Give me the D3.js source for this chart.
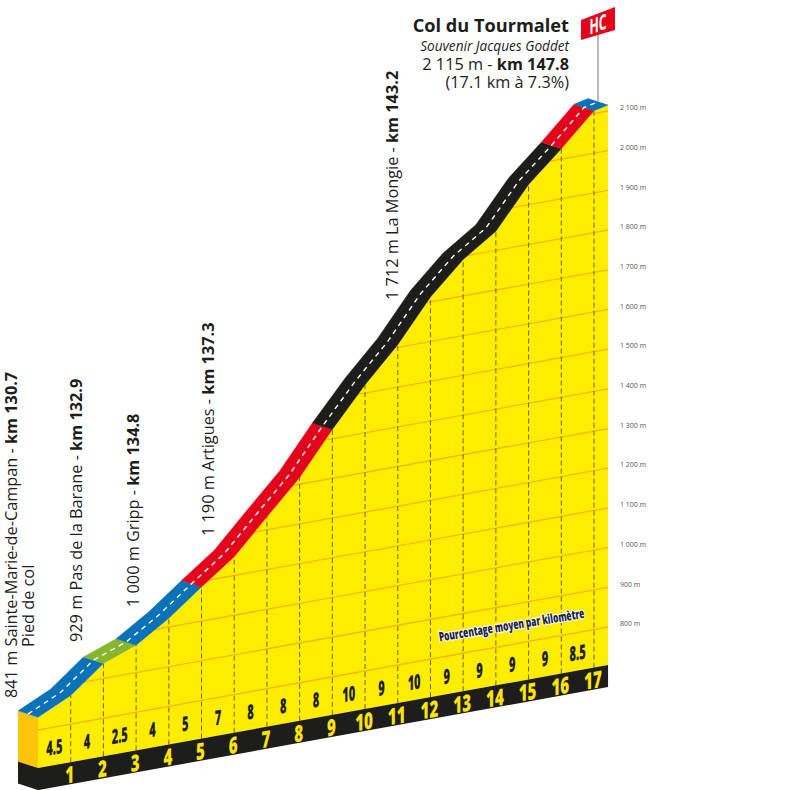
<!DOCTYPE html>
<html>
<head>
<meta charset="utf-8">
<style>
  html, body { margin: 0; padding: 0; background: #fff; }
  svg { display: block; }
  text { font-family: "Open Sans", sans-serif; }
</style>
<script src="https://cdnjs.cloudflare.com/ajax/libs/d3/7.8.5/d3.min.js"></script>
</head>
<body>
<div id="chart"></div>
<script>
// profile, one altitude per km, last one is the summit
const kms = [0, 1, 2, 3, 4, 5, 6, 7, 8, 9, 10, 11, 12, 13, 14, 15, 16, 17, 17.43];
const altitudes = [832, 872, 938, 969, 1022, 1086, 1147, 1233, 1317, 1423, 1521, 1607, 1712, 1792, 1848, 1951, 2026, 2107, 2115];
const gradients = [4.5, 4, 2.5, 4, 5, 7, 8, 8, 8, 10, 9, 10, 9, 9, 9, 9, 8.5];
const kmLabels = [1, 2, 3, 4, 5, 6, 7, 8, 9, 10, 11, 12, 13, 14, 15, 16, 17];
const altitudeTicks = [800, 900, 1000, 1100, 1200, 1300, 1400, 1500, 1600, 1700, 1800, 1900, 2000, 2100];
// difficulty of the road: [from km index, to km index, class]
const roadSegments = [[0, 2, 'easy'], [2, 3, 'flat'], [3, 5, 'easy'], [5, 9, 'hard'], [9, 16, 'vhard'], [16, 17, 'hard'], [17, 18, 'easy']];
const climbPoints = ['841 m Sainte-Marie-de-Campan - ', '929 m Pas de la Barane - ', '1 000 m Gripp - ', '1 190 m Artigues - ', '1 712 m La Mongie - '];
const climbKms = ['km 130.7', 'km 132.9', 'km 134.8', 'km 137.3', 'km 143.2'];

const roadColor = { easy: '#0b72b9', flat: '#86b52f', hard: '#e3051b', vhard: '#1d1d1b' };
const yellow = '#ffed00';
const dark = '#1d1d1b';

const width = 800, height = 790;
const svg = d3.select('#chart').append('svg').attr('width', width).attr('height', height);

const x = d3.scaleLinear().domain([0, 17]).range([38, 594]);
const rightEdge = x(17.43);
const y = d3.scaleLinear().domain([800, 2100]).range([627, 111]);
// the whole drawing is sheared: lines of equal altitude climb to the right
const shear = d3.scaleLinear().domain([38, rightEdge]).range([103, 0]);
const px = (km, alt) => [x(km), y(alt) + shear(x(km))];

const baseAlt = 704;
const stripHeight = 22;
const roadShift = [-20, -6.5];

const profile = kms.map((k, i) => px(k, altitudes[i]));
const line = d3.line();

// yellow face
svg.append('path')
    .attr('d', line([...profile, px(17.43, baseAlt), px(0, baseAlt)]) + 'Z')
    .attr('fill', yellow);

svg.append('clipPath').attr('id', 'face')
    .append('path')
    .attr('d', line([...profile, px(17.43, baseAlt), px(0, baseAlt)]) + 'Z');

// altitude lines
svg.append('g').attr('clip-path', 'url(#face)')
    .selectAll('line').data(altitudeTicks).join('line')
    .attr('x1', x(0)).attr('x2', rightEdge)
    .attr('y1', d => px(0, d)[1]).attr('y2', d => px(17.43, d)[1])
    .attr('stroke', '#f2b70f').attr('stroke-width', 1.3);

// km dashes
svg.append('g').selectAll('line').data(kmLabels).join('line')
    .attr('x1', d => x(d)).attr('x2', d => x(d))
    .attr('y1', d => px(d, baseAlt)[1]).attr('y2', d => px(d, altitudes[d])[1])
    .attr('stroke', '#6d6222').attr('stroke-width', 1).attr('stroke-dasharray', '5 3');

// left side of the block
const b0 = px(0, baseAlt);
const p0 = profile[0];
svg.append('path')
    .attr('d', line([p0, [p0[0] + roadShift[0], p0[1] + roadShift[1]], [b0[0] + roadShift[0], b0[1] + roadShift[1]], b0]) + 'Z')
    .attr('fill', '#fdc409');
svg.append('path')
    .attr('d', line([b0, [b0[0] + roadShift[0], b0[1] + roadShift[1]], [b0[0] + roadShift[0], b0[1] + roadShift[1] + stripHeight], [b0[0], b0[1] + stripHeight]]) + 'Z')
    .attr('fill', dark);

// black strip
const b1 = px(17.43, baseAlt);
svg.append('path')
    .attr('d', line([b0, b1, [b1[0], b1[1] + stripHeight], [b0[0], b0[1] + stripHeight]]) + 'Z')
    .attr('fill', dark);

// road ribbon
svg.append('g').selectAll('path').data(roadSegments).join('path')
    .attr('d', d => {
        const low = profile.slice(d[0], d[1] + 1);
        const high = low.map(p => [p[0] + roadShift[0], p[1] + roadShift[1]]).reverse();
        return line([...low, ...high]) + 'Z';
    })
    .attr('fill', d => roadColor[d[2]])
    .attr('stroke', d => roadColor[d[2]]).attr('stroke-width', 0.4);

svg.append('path')
    .attr('d', line(profile.map(p => [p[0] + roadShift[0] / 2, p[1] + roadShift[1] / 2])))
    .attr('fill', 'none').attr('stroke', '#fff').attr('stroke-width', 1.4).attr('stroke-dasharray', '5 4.5');

// slanted block text
const slanted = (sel, px0, py0, sx) => sel.attr('transform', `translate(${px0},${py0}) skewY(-10) scale(${sx},1)`);

svg.append('g').selectAll('text').data(gradients).join('text')
    .each(function(d, i) {
        const cx = x(i + 0.5);
        slanted(d3.select(this), cx, px(i + 0.5, baseAlt)[1] - 18, 0.54);
    })
    .attr('text-anchor', 'middle').attr('dy', '0.36em')
    .attr('font-size', 20.5).attr('font-weight', 800).attr('fill', dark)
    .text(d => d);

svg.append('g').selectAll('text').data(kmLabels).join('text')
    .each(function(d) {
        slanted(d3.select(this), x(d) - 1, px(d, baseAlt)[1] + 12.5, 0.66);
    })
    .attr('text-anchor', 'middle').attr('dy', '0.36em')
    .attr('font-size', 23).attr('font-weight', 800).attr('fill', '#ffe500')
    .text(d => d);

svg.append('text')
    .attr('transform', 'translate(511.5,625) rotate(-9.3) scale(0.64,1)')
    .attr('text-anchor', 'middle').attr('dy', '0.36em')
    .attr('font-size', 13).attr('font-weight', 800)
    .attr('fill', '#1b2346').attr('stroke', '#fff').attr('stroke-width', 2.4)
    .attr('paint-order', 'stroke').attr('stroke-linejoin', 'round')
    .text('Pourcentage moyen par kilomètre');

// altitude scale on the right
const axis = d3.axisRight(y)
    .tickValues(altitudeTicks)
    .tickSize(0).tickPadding(0)
    .tickFormat(d => d3.format(',')(d).replace(',', '\u00a0') + ' m');
const axisG = svg.append('g').attr('transform', `translate(620,-3.5)`).call(axis);
axisG.select('.domain').remove();
axisG.selectAll('text').attr('font-family', '"Open Sans", sans-serif').attr('font-size', 7).attr('fill', '#555');

// climb labels, written upwards
const labelAnchors = [[17, 698], [82, 642], [139, 607], [214, 536], [398, 300]];
const climbG = svg.append('g').selectAll('text').data(climbPoints).join('text')
    .attr('transform', (d, i) => `translate(${labelAnchors[i][0]},${labelAnchors[i][1]}) rotate(-90)`)
    .attr('font-size', 16.3).attr('fill', dark);
climbG.append('tspan').text(d => d);
climbG.append('tspan').attr('font-weight', 700).text((d, i) => climbKms[i]);

svg.append('text')
    .attr('transform', 'translate(34,647) rotate(-90)')
    .attr('font-size', 16.3).attr('fill', dark)
    .text('Pied de col');

// summit block
const title = svg.append('g').attr('text-anchor', 'end').attr('fill', dark);
title.append('text').attr('x', 569).attr('y', 32).attr('font-size', 18.2).attr('font-weight', 700).text('Col du Tourmalet');
title.append('text').attr('x', 569).attr('y', 51).attr('font-size', 13.6).attr('font-style', 'italic').text('Souvenir Jacques Goddet');
const alt = title.append('text').attr('x', 569).attr('y', 69.5).attr('font-size', 16.3);
alt.append('tspan').text('2 115 m - ');
alt.append('tspan').attr('font-weight', 700).text('km 147.8');
title.append('text').attr('x', 569).attr('y', 88).attr('font-size', 16.3).text('(17.1 km à 7.3%)');

// HC flag
svg.append('line').attr('x1', 598).attr('x2', 598).attr('y1', 30).attr('y2', 101)
    .attr('stroke', '#8a8a8a').attr('stroke-width', 1.2);
svg.append('path')
    .attr('d', line([[581, 20], [615, 7], [615, 30], [581, 40]]) + 'Z')
    .attr('fill', '#e3051b');
svg.append('text')
    .attr('transform', 'translate(598,24) skewY(-20) scale(0.58,1)')
    .attr('text-anchor', 'middle').attr('dy', '0.36em')
    .attr('font-size', 21).attr('font-weight', 700).attr('fill', '#fff')
    .text('HC');
</script>
</body>
</html>
